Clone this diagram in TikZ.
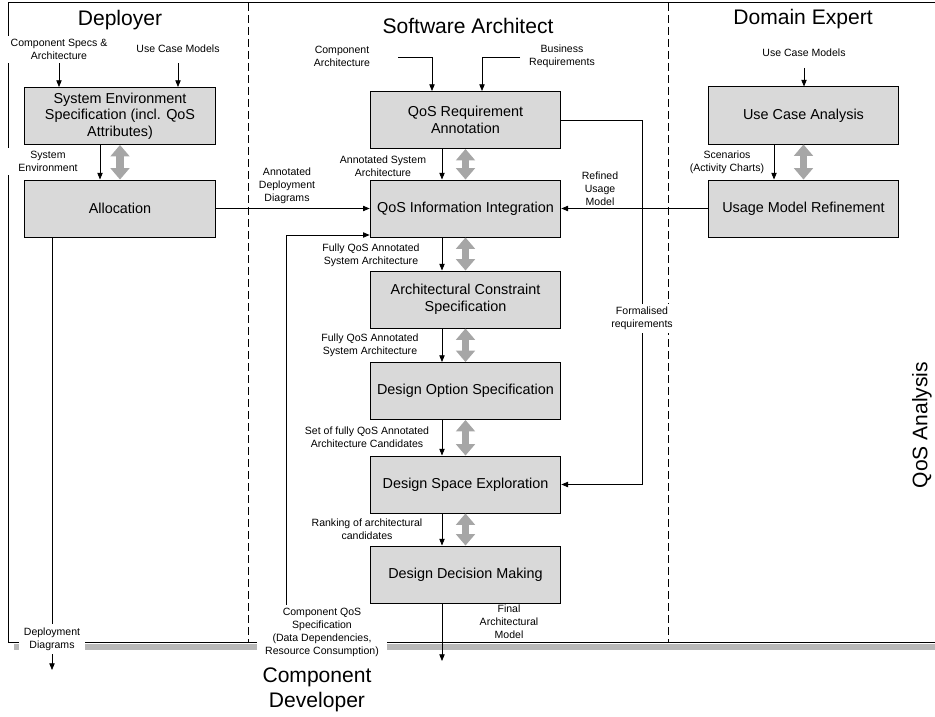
\documentclass[tikz,border=0pt]{standalone}
\usepackage{fontspec}
\setmainfont{Liberation Sans}
\usepackage{tikz}
\usetikzlibrary{arrows.meta}

\definecolor{taskfill}{RGB}{217,217,217}
\definecolor{exchgray}{RGB}{166,166,166}
\definecolor{shadowgray}{RGB}{184,184,184}

\tikzset{
  task/.style={draw, line width=0.75pt, fill=taskfill, align=center, inner sep=2pt,
    minimum width=143pt, minimum height=42.75pt, font=\fontsize{10.8}{12.4}\selectfont},
  flow/.style={line width=0.6pt, -{Triangle[length=5pt,width=4pt]}},
  exchange/.style={draw=exchgray, line width=5.5pt,
    {Triangle[length=8.5pt,width=14.5pt,line width=0pt]}-{Triangle[length=8.5pt,width=14.5pt,line width=0pt]}},
  lbl/.style={align=center, inner sep=1pt, font=\fontsize{7.9}{9.7}\selectfont},
  lblw/.style={lbl, fill=white, inner xsep=4pt, inner ysep=2.5pt},
  role/.style={align=center, font=\fontsize{15.8}{18.8}\selectfont},
  lane/.style={line width=0.75pt, dash pattern=on 6pt off 3pt},
}

\begin{document}
\begin{tikzpicture}[x=0.75pt,y=0.75pt,yscale=-1,xscale=1]
\useasboundingbox (0,0) rectangle (935,717);

%Shape: Frame with shadow
\draw [shadowgray, line width=4.5pt] (14,646.5) -- (935,646.5) ;
\draw [line width=0.75pt] (935,3) -- (8,3) -- (8,642) -- (935,642) ;
%Straight Lines: swimlanes
\draw [lane] (248,3) -- (248,642) ;
\draw [lane] (668,3) -- (668,642) ;

% Roles
\node [role] (deployer) at (120,20) {Deployer};
\node [role] (architect) at (468,26) {Software Architect};
\node [role] (domexpert) at (803,19) {Domain Expert};
\node [role] (compdev) at (317,689.5) {Component\\Developer};
\node [role, rotate=90] (qosana) at (922,425) {QoS Analysis};

% Tasks
\node [task] (sysenv) at (120,116) {System Environment\\Specification (incl. QoS\\Attributes)};
\node [task] (alloc) at (120,208.5) {Allocation};
\node [task] (req) at (465.5,120) {QoS Requirement\\Annotation};
\node [task] (info) at (465.5,208.5) {QoS Information Integration};
\node [task] (arch) at (465.5,299.5) {Architectural Constraint\\Specification};
\node [task] (opt) at (465.5,391) {Design Option Specification};
\node [task] (dse) at (465.5,484.5) {Design Space Exploration};
\node [task] (ddm) at (465.5,574.5) {Design Decision Making};
\node [task] (uca) at (803.5,115.5) {Use Case Analysis};
\node [task] (umr) at (803.5,208.5) {Usage Model Refinement};

% Free ends and columns of the flows
\coordinate (xl) at (100,0);
\coordinate (xm) at (442,0);
\coordinate (xr) at (774,0);
\coordinate (xca) at (432,0);
\coordinate (xbr) at (482,0);
\coordinate (fx) at (642,0);
\coordinate (carchin) at (398,57);
\coordinate (breqin) at (520,57);
\coordinate (ucmdomin) at (804,68);
\coordinate (depout) at (52,670);
\coordinate (finalout) at (442,661);
\coordinate (cqsin) at (286,605);
\coordinate (cqsturn) at (286,235);

% Two-way exchanges
\foreach \a/\b in {sysenv/alloc,req/info,info/arch,arch/opt,opt/dse,dse/ddm,uca/umr}
  \draw [exchange] (\a.south) -- (\b.north) ;

% Labels
\node [lblw, minimum width=80pt] (cspec) at (59,49.5) {Component Specs \&\\Architecture};
\node [lbl] (ucmdep) at (178,49) {Use Case Models};
\node [lblw, minimum width=64pt] (sysenvlbl) at (48,161.5) {System\\Environment};
\node [lbl] (adlbl) at (287,186) {Annotated\\Deployment\\Diagrams};
\node [lbl] (carch) at (342,56.5) {Component\\Architecture};
\node [lbl] (breq) at (562,56.5) {Business\\Requirements};
\node [lbl] (aslbl) at (383,166) {Annotated System\\Architecture};
\node [lbl] (rumlbl) at (600,189) {Refined\\Usage\\Model};
\node [lbl] (ucmdom) at (804,53) {Use Case Models};
\node [lbl] (scenlbl) at (727,162.5) {Scenarios\\(Activity Charts)};
\node [lbl] (fqlbla) at (371,255.5) {Fully QoS Annotated\\System Architecture};
\node [lbl] (fqlblb) at (370,345.5) {Fully QoS Annotated\\System Architecture};
\node [lbl] (candlbl) at (367,437) {Set of fully QoS Annotated\\Architecture Candidates};
\node [lbl] (ranklbl) at (367,529.5) {Ranking of architectural\\candidates};
\node [lbl] (finallbl) at (509,622) {Final\\Architectural\\Model};

% Flows
\draw [flow] (cspec.south) -- (cspec.south |- sysenv.north) ;
\draw [flow] (ucmdep.south |- cspec.south) -- (ucmdep.south |- sysenv.north) ;
\draw [flow] (sysenv.south -| xl) -- (alloc.north -| xl) ;
\draw [flow] (alloc.east) -- (info.west) ;
\draw [flow] (alloc.south -| depout) -- (depout) ;
\draw [flow] (carchin) -| (req.north -| xca) ;
\draw [flow] (breqin) -| (req.north -| xbr) ;
\draw [flow] (req.south -| xm) -- (info.north -| xm) ;
\draw [flow] (info.south -| xm) -- (arch.north -| xm) ;
\draw [flow] (arch.south -| xm) -- (opt.north -| xm) ;
\draw [flow] (opt.south -| xm) -- (dse.north -| xm) ;
\draw [flow] (dse.south -| xm) -- (ddm.north -| xm) ;
\draw [flow] (ddm.south -| finalout) -- (finalout) ;
\draw [flow] (req.east) -- (req.east -| fx) -- (dse.east -| fx) -- (dse.east) ;
\draw [flow] (umr.west) -- (info.east) ;
\draw [flow] (ucmdomin) -- (ucmdomin |- uca.north) ;
\draw [flow] (uca.south -| xr) -- (umr.north -| xr) ;
\draw [flow] (cqsin) -- (cqsturn) -- (cqsturn -| info.west) ;

% Labels breaking the lines
\node [lblw] (formlbl) at (642,318.5) {Formalised\\requirements};
\node [lblw, inner xsep=6pt] (cqs) at (322,632.5) {Component QoS\\Specification\\(Data Dependencies,\\Resource Consumption)};
\node [lblw] (ddlbl) at (52,639) {Deployment\\Diagrams};

\end{tikzpicture}
\end{document}
